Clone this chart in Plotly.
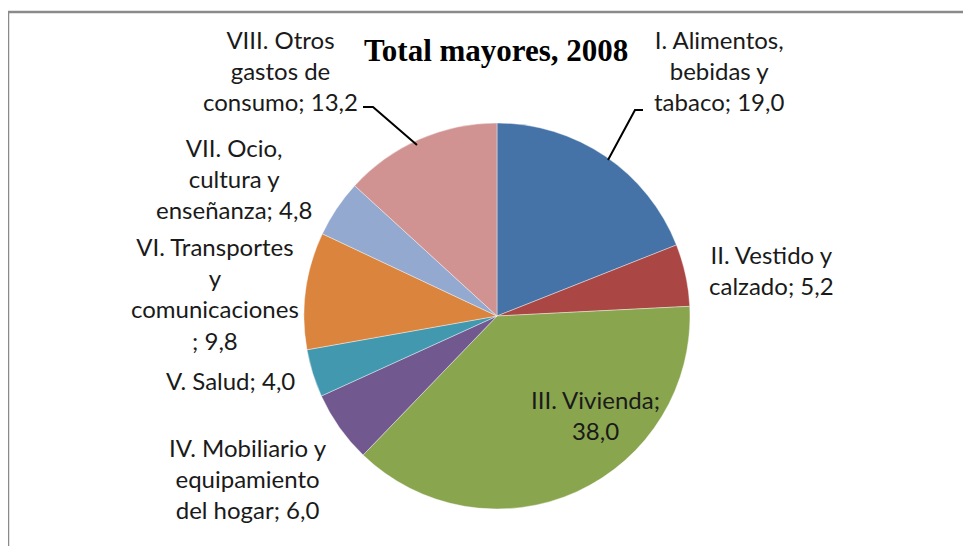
import plotly.graph_objects as go

# ---- data ----
categories = [
    "I. Alimentos,<br>bebidas y<br>tabaco",
    "II. Vestido y<br>calzado",
    "III. Vivienda;",
    "IV. Mobiliario y<br>equipamiento<br>del hogar",
    "V. Salud",
    "VI. Transportes<br>y<br>comunicaciones<br>",
    "VII. Ocio,<br>cultura y<br>enseñanza",
    "VIII. Otros<br>gastos de<br>consumo",
]
values = [19.0, 5.2, 38.0, 6.0, 4.0, 9.8, 4.8, 13.2]
colors = ["#4572A7", "#AA4643", "#89A54E", "#71588F",
          "#4198AF", "#DB843D", "#93A9CF", "#D19392"]
title_text = "Total mayores, 2008"

W, H = 971, 554          # window
OFF = 8                  # default page body margin
FW, FH = W - 2 * OFF, H - 2 * OFF


def px(x, y):
    return (x - OFF) / FW, 1 - (y - OFF) / FH


def fmt(v):
    return f"{v:.1f}".replace(".", ",")


def label_text(cat, v):
    if cat.endswith(";"):
        return f"{cat}<br>{fmt(v)}"
    return f"{cat}; {fmt(v)}"


# label centre positions (window pixels)
label_pos = [(719, 70), (771, 270), (595, 415), (248, 478),
             (230, 380), (215, 293), (234, 178), (280, 70)]

cx, cy, r = 497, 316, 193
x0, y1 = px(cx - r, cy - r)
x1, y0 = px(cx + r, cy + r)

fig = go.Figure()
fig.add_trace(go.Pie(
    labels=[c.replace("<br>", " ") for c in categories],
    values=values,
    sort=False,
    direction="clockwise",
    rotation=0,
    textinfo="none",
    marker=dict(colors=colors, line=dict(color="rgba(255,255,255,0.5)", width=0.8)),
    domain=dict(x=[x0, x1], y=[y0, y1]),
    showlegend=False,
    hoverinfo="label+value",
))

annotations = []
for cat, v, (lx, ly) in zip(categories, values, label_pos):
    ax, ay = px(lx, ly)
    annotations.append(dict(
        x=ax, y=ay, xref="paper", yref="paper",
        text=label_text(cat, v), showarrow=False,
        xanchor="center", yanchor="middle", align="center",
        font=dict(family="Lato", size=24, color="#1a1a1a"),
    ))

tx, ty = px(496, 50)
annotations.append(dict(
    x=tx, y=ty, xref="paper", yref="paper", text=f"<b>{title_text}</b>",
    showarrow=False, xanchor="center", yanchor="middle",
    font=dict(family="Liberation Serif", size=31, color="#000000"),
))


def path(points):
    s = ""
    for i, (x, y) in enumerate(points):
        X, Y = px(x, y)
        s += ("M" if i == 0 else "L") + f"{X:.5f},{Y:.5f} "
    return s.strip()


bx0, by1 = px(8, 12)
shapes = [
    dict(type="rect", xref="paper", yref="paper", x0=bx0, y0=-0.1, x1=1.1, y1=by1,
         line=dict(color="#8a8a8a", width=2.5), fillcolor="rgba(0,0,0,0)"),
    dict(type="path", xref="paper", yref="paper",
         path=path([(363, 107), (373, 107), (417, 145)]),
         line=dict(color="#000000", width=2)),
    dict(type="path", xref="paper", yref="paper",
         path=path([(643, 110), (635, 110), (608, 160)]),
         line=dict(color="#000000", width=2)),
]

fig.update_layout(
    width=FW, height=FH,
    margin=dict(l=0, r=0, t=0, b=0),
    paper_bgcolor="white", plot_bgcolor="white",
    annotations=annotations, shapes=shapes,
)

fig.write_html("out.html")
